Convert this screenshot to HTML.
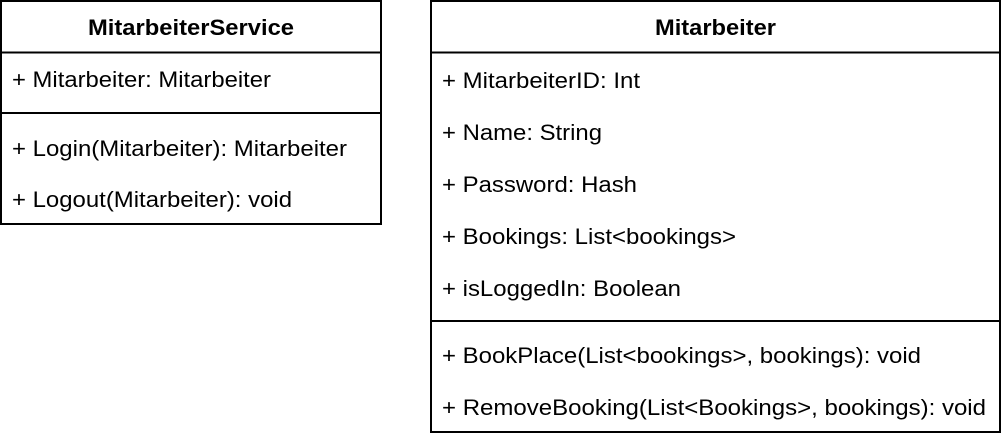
<!DOCTYPE html>
<html><head><meta charset="utf-8"><style>
html,body{margin:0;padding:0;background:#fff;width:1002px;height:440px;overflow:hidden}
svg text{font-family:"Liberation Sans",Arial,sans-serif;font-size:22px;fill:#000}
</style></head><body>
<svg width="1002" height="440" xmlns="http://www.w3.org/2000/svg">
<g fill="none" stroke="#000" stroke-width="2">
<rect x="1" y="1" width="380" height="223"/>
<line x1="1" y1="52.5" x2="381" y2="52.5"/>
<line x1="1" y1="113" x2="381" y2="113"/>
<rect x="431" y="1" width="569" height="431"/>
<line x1="431" y1="52.5" x2="1000" y2="52.5"/>
<line x1="431" y1="321" x2="1000" y2="321"/>
</g>
<text x="88" y="35" font-weight="bold" textLength="206" lengthAdjust="spacingAndGlyphs">MitarbeiterService</text>
<text x="12" y="87" textLength="259" lengthAdjust="spacingAndGlyphs">+ Mitarbeiter: Mitarbeiter</text>
<text x="12" y="156" textLength="335" lengthAdjust="spacingAndGlyphs">+ Login(Mitarbeiter): Mitarbeiter</text>
<text x="12" y="207" textLength="280" lengthAdjust="spacingAndGlyphs">+ Logout(Mitarbeiter): void</text>
<text x="655" y="35" font-weight="bold" textLength="121" lengthAdjust="spacingAndGlyphs">Mitarbeiter</text>
<text x="442" y="88" textLength="198" lengthAdjust="spacingAndGlyphs">+ MitarbeiterID: Int</text>
<text x="442" y="140" textLength="160" lengthAdjust="spacingAndGlyphs">+ Name: String</text>
<text x="442" y="192" textLength="195" lengthAdjust="spacingAndGlyphs">+ Password: Hash</text>
<text x="442" y="244" textLength="294" lengthAdjust="spacingAndGlyphs">+ Bookings: List&lt;bookings&gt;</text>
<text x="442" y="296" textLength="239" lengthAdjust="spacingAndGlyphs">+ isLoggedIn: Boolean</text>
<text x="442" y="363" textLength="479" lengthAdjust="spacingAndGlyphs">+ BookPlace(List&lt;bookings&gt;, bookings): void</text>
<text x="442" y="415" textLength="544" lengthAdjust="spacingAndGlyphs">+ RemoveBooking(List&lt;Bookings&gt;, bookings): void</text>
</svg>
</body></html>
